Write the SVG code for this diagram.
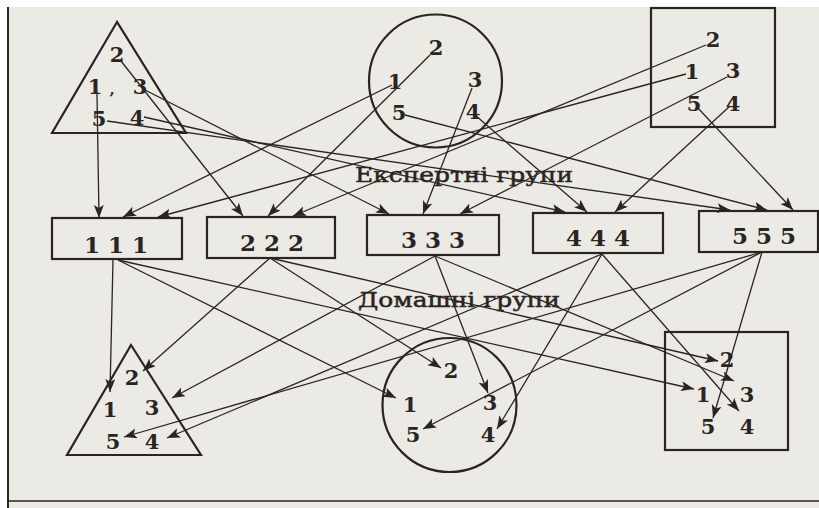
<svg xmlns="http://www.w3.org/2000/svg" width="819" height="508" viewBox="0 0 819 508">
  <defs>
    <marker id="arrow" markerUnits="userSpaceOnUse" markerWidth="14" markerHeight="11" refX="13" refY="5" orient="auto">
      <path d="M0,0 L13,5 L0,10 L3,5 z" fill="#2a2521"/>
    </marker>
    <style>
      .shape { fill: none; stroke: #2a2521; stroke-width: 2.2; }
      .box { fill: none; stroke: #2a2521; stroke-width: 2.2; }
      .num { font-family: "DejaVu Serif", "Liberation Serif", serif; font-weight: bold; font-size: 21px; fill: #2a2521; text-anchor: middle; }
      .boxnum { font-family: "DejaVu Serif", "Liberation Serif", serif; font-weight: bold; font-size: 23px; fill: #2a2521; text-anchor: middle; }
      .title { font-family: "DejaVu Serif", "Liberation Serif", serif; font-size: 21px; fill: #2a2521; stroke: #2a2521; stroke-width: 0.5; }
      .link { stroke: #2a2521; stroke-width: 1.3; fill: none; marker-end: url(#arrow); }
    </style>
  </defs>

  <!-- page -->
  <rect x="0" y="0" width="819" height="508" fill="#ffffff"/>
  <rect x="8" y="7" width="811" height="501" fill="#eceae4"/>
  <line x1="8" y1="7" x2="8" y2="508" stroke="#2a2521" stroke-width="2"/>
  <line x1="8" y1="501" x2="819" y2="501" stroke="#2a2521" stroke-width="1.5"/>

  <!-- home groups (top) -->
  <g id="home-triangle-top">
    <polygon class="shape" points="117,22 52,133 186,133"/>
    <text class="num" x="117" y="62">2</text>
    <text class="num" x="95" y="94">1</text>
    <text x="112" y="94" font-family="DejaVu Serif, serif" font-weight="bold" font-size="15" fill="#2a2521" text-anchor="middle">,</text>
    <text class="num" x="140" y="94">3</text>
    <text class="num" x="99" y="126">5</text>
    <text class="num" x="137" y="125">4</text>
  </g>
  <g id="home-circle-top">
    <circle class="shape" cx="435.5" cy="81" r="66.5"/>
    <text class="num" x="436" y="55">2</text>
    <text class="num" x="395" y="89">1</text>
    <text class="num" x="475" y="87">3</text>
    <text class="num" x="399" y="120">5</text>
    <text class="num" x="473" y="119">4</text>
  </g>
  <g id="home-square-top">
    <rect class="shape" x="651" y="8" width="124" height="119"/>
    <text class="num" x="713" y="47">2</text>
    <text class="num" x="692" y="79">1</text>
    <text class="num" x="733" y="78">3</text>
    <text class="num" x="694" y="111">5</text>
    <text class="num" x="733" y="111">4</text>
  </g>

  <text id="label-expert" class="title" x="355" y="182" textLength="218" lengthAdjust="spacingAndGlyphs">Експертні групи</text>

  <!-- expert groups -->
  <g id="expert-111">
    <rect class="box" x="52" y="218" width="130" height="41"/>
    <text class="boxnum" x="116" y="253">1 1 1</text>
  </g>
  <g id="expert-222">
    <rect class="box" x="207" y="217" width="128" height="41"/>
    <text class="boxnum" x="272" y="251">2 2 2</text>
  </g>
  <g id="expert-333">
    <rect class="box" x="367" y="215" width="132" height="40"/>
    <text class="boxnum" x="433" y="248">3 3 3</text>
  </g>
  <g id="expert-444">
    <rect class="box" x="533" y="213" width="130" height="40"/>
    <text class="boxnum" x="598" y="246">4 4 4</text>
  </g>
  <g id="expert-555">
    <rect class="box" x="699" y="211" width="119" height="41"/>
    <text class="boxnum" x="764" y="244">5 5 5</text>
  </g>

  <text id="label-home" class="title" x="358" y="307" textLength="202" lengthAdjust="spacingAndGlyphs">Домашні групи</text>

  <!-- home groups (bottom) -->
  <g id="home-triangle-bottom">
    <polygon class="shape" points="131,345 67,455 201,455"/>
    <text class="num" x="132" y="385">2</text>
    <text class="num" x="110" y="417">1</text>
    <text class="num" x="152" y="415">3</text>
    <text class="num" x="113" y="449">5</text>
    <text class="num" x="152" y="449">4</text>
  </g>
  <g id="home-circle-bottom">
    <circle class="shape" cx="449.5" cy="405" r="67"/>
    <text class="num" x="451" y="378">2</text>
    <text class="num" x="410" y="412">1</text>
    <text class="num" x="490" y="410">3</text>
    <text class="num" x="413" y="442">5</text>
    <text class="num" x="488" y="442">4</text>
  </g>
  <g id="home-square-bottom">
    <rect class="shape" x="665" y="332" width="123" height="118"/>
    <text class="num" x="727" y="367">2</text>
    <text class="num" x="703" y="402">1</text>
    <text class="num" x="747" y="402">3</text>
    <text class="num" x="708" y="434">5</text>
    <text class="num" x="747" y="434">4</text>
  </g>

  <!-- connectors: home members to expert groups, then back -->
  <g id="connectors">
    <line class="link" x1="97" y1="94" x2="99" y2="218"/>
    <line class="link" x1="121" y1="61" x2="243" y2="216"/>
    <line class="link" x1="145" y1="90" x2="389" y2="214"/>
    <line class="link" x1="144" y1="117" x2="565" y2="212"/>
    <line class="link" x1="107" y1="121" x2="730" y2="210"/>

    <line class="link" x1="392" y1="85" x2="123" y2="217"/>
    <line class="link" x1="430" y1="55" x2="268" y2="216"/>
    <line class="link" x1="472" y1="88" x2="423" y2="214"/>
    <line class="link" x1="475" y1="115" x2="587" y2="212"/>
    <line class="link" x1="405" y1="115" x2="767" y2="210"/>

    <line class="link" x1="686" y1="74" x2="158" y2="217"/>
    <line class="link" x1="706" y1="45" x2="293" y2="216"/>
    <line class="link" x1="727" y1="77" x2="460" y2="214"/>
    <line class="link" x1="730" y1="106" x2="615" y2="212"/>
    <line class="link" x1="697" y1="107" x2="793" y2="210"/>

    <line class="link" x1="113" y1="260" x2="110" y2="392"/>
    <line class="link" x1="118" y1="260" x2="396" y2="398"/>
    <line class="link" x1="118" y1="260" x2="694" y2="389"/>

    <line class="link" x1="270" y1="258" x2="143" y2="371"/>
    <line class="link" x1="270" y1="258" x2="441" y2="368"/>
    <line class="link" x1="270" y1="258" x2="718" y2="361"/>

    <line class="link" x1="435" y1="256" x2="172" y2="398"/>
    <line class="link" x1="435" y1="256" x2="488" y2="393"/>
    <line class="link" x1="435" y1="256" x2="734" y2="381"/>

    <line class="link" x1="602" y1="254" x2="167" y2="438"/>
    <line class="link" x1="602" y1="254" x2="497" y2="429"/>
    <line class="link" x1="602" y1="254" x2="739" y2="411"/>

    <line class="link" x1="762" y1="252" x2="124" y2="437"/>
    <line class="link" x1="762" y1="252" x2="423" y2="429"/>
    <line class="link" x1="762" y1="252" x2="713" y2="418"/>
  </g>
</svg>
